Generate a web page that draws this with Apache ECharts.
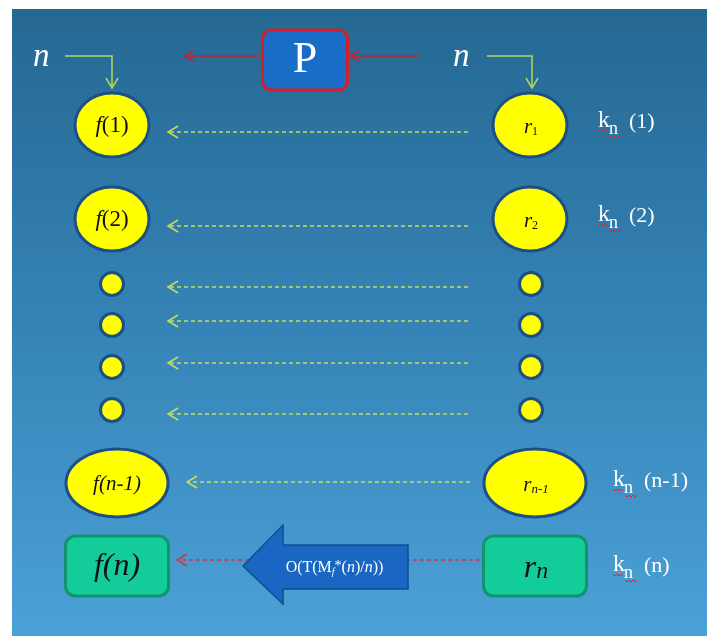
<!DOCTYPE html>
<html><head><meta charset="utf-8">
<script src="https://cdn.jsdelivr.net/npm/echarts@6/dist/echarts.min.js"></script>
<style>html,body{margin:0;padding:0;background:#fff}#c{width:707px;height:636px}</style>
</head><body><div id="c"></div>
<script>
// ---- diagram data (diagram coordinates) ----
const frame = [[12, 9, 707, 636]];
const rowY = [125, 219, 284, 325, 367, 410, 483, 566];
const leftX = [112, 112, 112, 112, 112, 112, 117, 117];
const rightX = [530, 530, 531, 531, 531, 531, 535, 535];
const nodeKind = ['oval', 'oval', 'dot', 'dot', 'dot', 'dot', 'wide', 'box'];
const leftFn = 'f';
const leftArg = ['(1)', '(2)', '', '', '', '', '(n-1)', '(n)'];
const rightBase = 'r';
const rightSub = ['1', '2', '', '', '', '', 'n-1', 'n'];
const linkY = [132, 226, 287, 321, 363, 414, 482, 560];
const linkFromX = [468, 468, 468, 468, 468, 468, 470, 480];
const linkToX = [168, 168, 168, 168, 168, 168, 187, 177];
const kRows = [0, 1, 6, 7];
const kX = [598, 598, 613, 613];
const kY = [121, 215, 480, 565];
const kArg = ['(1)', '(2)', '(n-1)', '(n)'];
const nLabels = [[33, 57], [453, 57]];
const elbowStartX = [65, 487];
const elbowCornerX = [112, 532];
const elbowY = 56, elbowEndY = 88;
const pBox = [[305, 60]];
const pLabel = 'P';
const pArrowFromX = [262, 420];
const pArrowToX = [185, 350];
const pArrowY = 56;
const bigArrow = [[243, 566, 408]];
const bigArrowLabel = ['O(T(M', 'f', '*', '(', 'n', ')/', 'n', '))'];

const SERIF = '"Liberation Serif", "DejaVu Serif", serif';
const GREEN = '#c6dd57', ELBOW = '#b4d65c', RED_DASH = '#cf3548', RED = '#cc1f2a';
const YEL = '#ffff00', YEL_STROKE = '#1c4f88', TEAL = '#14cc9a', TEAL_STROKE = '#11946f';

function vHead(tx, ty, dx, dy, len, half) {
  const bx = tx - dx * len, by = ty - dy * len;
  const px = -dy, py = dx;
  return [[bx + px * half, by + py * half], [tx, ty], [bx - px * half, by - py * half]];
}
function zig(x0, x1, y) {
  const pts = []; let k = 0;
  for (let x = x0; x <= x1; x += 2, k++) pts.push([x, y + (k % 2 ? 2 : 0)]);
  return pts;
}
const noFill = 'none';

const chart = echarts.init(document.getElementById('c'));
const base = { type: 'custom', silent: true, animation: false, clip: false, xAxisIndex: 0, yAxisIndex: 0 };

const option = {
  backgroundColor: '#ffffff',
  animation: false,
  grid: { left: 0, right: 0, top: 0, bottom: 0 },
  xAxis: { type: 'value', min: 0, max: 707, show: false },
  yAxis: { type: 'value', min: 0, max: 636, inverse: true, show: false },
  series: [
    Object.assign({}, base, {
      name: 'frame', z: 1, data: frame,
      renderItem: (p, api) => {
        const a = api.coord([api.value(0), api.value(1)]);
        const b = api.coord([api.value(2), api.value(3)]);
        return { type: 'rect', shape: { x: a[0], y: Math.min(a[1], b[1]), width: b[0] - a[0], height: Math.abs(b[1] - a[1]) },
          style: { fill: new echarts.graphic.LinearGradient(0, 0, 0, 1, [
            { offset: 0, color: '#256892' }, { offset: 0.5, color: '#3583b6' }, { offset: 1, color: '#4ba1d6' }]) } };
      }
    }),
    Object.assign({}, base, {
      name: 'links', z: 3, data: rowY.map((_, i) => [linkFromX[i], linkY[i], linkToX[i]]),
      renderItem: (p, api) => {
        const a = api.coord([api.value(0), api.value(1)]);
        const b = api.coord([api.value(2), api.value(1)]);
        const last = p.dataIndex === rowY.length - 1;
        const c = last ? RED_DASH : GREEN;
        return { type: 'group', children: [
          { type: 'line', shape: { x1: a[0], y1: a[1], x2: b[0] + 1, y2: b[1] }, style: { stroke: c, lineWidth: 1.5, lineDash: [4, 3], fill: noFill } },
          { type: 'polyline', shape: { points: vHead(b[0], b[1], -1, 0, 10, 6) }, style: { stroke: c, lineWidth: 1.5, fill: noFill } }
        ] };
      }
    }),
    Object.assign({}, base, {
      name: 'pArrows', z: 3, data: pArrowFromX.map((x, i) => [x, pArrowY, pArrowToX[i]]),
      renderItem: (p, api) => {
        const a = api.coord([api.value(0), api.value(1)]);
        const b = api.coord([api.value(2), api.value(1)]);
        return { type: 'group', children: [
          { type: 'line', shape: { x1: a[0], y1: a[1], x2: b[0], y2: b[1] }, style: { stroke: RED, lineWidth: 1.5, fill: noFill } },
          { type: 'polyline', shape: { points: vHead(b[0], b[1], -1, 0, 9, 5) }, style: { stroke: RED, lineWidth: 1.5, fill: noFill } }
        ] };
      }
    }),
    Object.assign({}, base, {
      name: 'elbows', z: 3, data: elbowStartX.map((x, i) => [x, elbowY, elbowCornerX[i], elbowEndY]),
      renderItem: (p, api) => {
        const a = api.coord([api.value(0), api.value(1)]);
        const c = api.coord([api.value(2), api.value(1)]);
        const e = api.coord([api.value(2), api.value(3)]);
        return { type: 'group', children: [
          { type: 'polyline', shape: { points: [a, c, e] }, style: { stroke: ELBOW, lineWidth: 1.5, fill: noFill } },
          { type: 'polyline', shape: { points: vHead(e[0], e[1], 0, 1, 10, 6) }, style: { stroke: ELBOW, lineWidth: 1.5, fill: noFill } }
        ] };
      }
    }),
    Object.assign({}, base, {
      name: 'left', z: 4, data: rowY.map((y, i) => [leftX[i], y]),
      renderItem: (p, api) => nodeShape(p, api, true)
    }),
    Object.assign({}, base, {
      name: 'right', z: 4, data: rowY.map((y, i) => [rightX[i], y]),
      renderItem: (p, api) => nodeShape(p, api, false)
    }),
    Object.assign({}, base, {
      name: 'P', z: 4, data: pBox,
      renderItem: (p, api) => {
        const c = api.coord([api.value(0), api.value(1)]);
        return { type: 'group', children: [
          { type: 'rect', shape: { x: c[0] - 42.5, y: c[1] - 30, width: 85, height: 60, r: 9 }, style: { fill: '#1a6dc6', stroke: '#d41f2b', lineWidth: 3 } },
          { type: 'text', x: c[0], y: c[1], style: { text: pLabel, fill: '#ffffff', fontSize: 44, fontFamily: SERIF, align: 'center', verticalAlign: 'middle' } }
        ] };
      }
    }),
    Object.assign({}, base, {
      name: 'bigArrow', z: 5, data: bigArrow,
      renderItem: (p, api) => {
        const t = api.coord([api.value(0), api.value(1)]);
        const e = api.coord([api.value(2), api.value(1)]);
        const hx = t[0] + 40, cy = t[1];
        const pts = [[t[0], cy], [hx, cy - 41], [hx, cy - 21], [e[0], cy - 21], [e[0], cy + 23], [hx, cy + 23], [hx, cy + 38]];
        const L = bigArrowLabel;
        const txt = '{m|' + L[0] + '}{sb|' + L[1] + '}{sp|' + L[2] + '}{m|' + L[3] + '}{i|' + L[4] + '}{m|' + L[5] + '}{i|' + L[6] + '}{m|' + L[7] + '}';
        return { type: 'group', children: [
          { type: 'polygon', shape: { points: pts }, style: { fill: '#1a67c3', stroke: '#0f4c93', lineWidth: 1.5 } },
          { type: 'text', x: (hx + e[0]) / 2 - 11, y: cy + 2, style: { text: txt, fill: '#fff', align: 'center', verticalAlign: 'middle',
            rich: {
              m: { fontSize: 16, lineHeight: 18, fontFamily: SERIF, fill: '#fff' },
              i: { fontSize: 16, lineHeight: 18, fontFamily: SERIF, fontStyle: 'italic', fill: '#fff' },
              sb: { fontSize: 10, lineHeight: 8, fontFamily: SERIF, fontStyle: 'italic', fill: '#fff', verticalAlign: 'bottom' },
              sp: { fontSize: 14, lineHeight: 2, fontFamily: SERIF, fill: '#fff', verticalAlign: 'top' }
            } } }
        ] };
      }
    }),
    Object.assign({}, base, {
      name: 'kLabels', z: 4, data: kRows.map((r, i) => [kX[i], kY[i]]),
      renderItem: (p, api) => {
        const c = api.coord([api.value(0), api.value(1)]);
        const x = c[0], y = c[1];
        const f = { fill: '#ffffff', fontFamily: SERIF, align: 'left', verticalAlign: 'middle' };
        return { type: 'group', children: [
          { type: 'text', x: x, y: y, style: Object.assign({ text: 'k', fontSize: 24 }, f) },
          { type: 'text', x: x + 11, y: y + 8, style: Object.assign({ text: 'n', fontSize: 18 }, f) },
          { type: 'text', x: x + 31, y: y + 1, style: Object.assign({ text: kArg[p.dataIndex], fontSize: 22 }, f) },
          { type: 'polyline', shape: { points: zig(x, x + 10, y + 9) }, style: { stroke: '#d22a3a', lineWidth: 1, fill: noFill } },
          { type: 'polyline', shape: { points: zig(x + 12, x + 24, y + 15) }, style: { stroke: '#d22a3a', lineWidth: 1, fill: noFill } }
        ] };
      }
    }),
    Object.assign({}, base, {
      name: 'nLabels', z: 4, data: nLabels,
      renderItem: (p, api) => {
        const c = api.coord([api.value(0), api.value(1)]);
        return { type: 'text', x: c[0], y: c[1], style: { text: 'n', fill: '#ffffff', fontSize: 33, fontStyle: 'italic', fontFamily: SERIF, align: 'left', verticalAlign: 'middle' } };
      }
    })
  ]
};

function nodeShape(p, api, isLeft) {
  const i = p.dataIndex;
  const c = api.coord([api.value(0), api.value(1)]);
  const kind = nodeKind[i];
  const kids = [];
  if (kind === 'oval') kids.push({ type: 'ellipse', shape: { cx: c[0], cy: c[1], rx: 37, ry: 32 }, style: { fill: YEL, stroke: YEL_STROKE, lineWidth: 3 } });
  else if (kind === 'dot') kids.push({ type: 'circle', shape: { cx: c[0], cy: c[1], r: 11.5 }, style: { fill: YEL, stroke: YEL_STROKE, lineWidth: 3 } });
  else if (kind === 'wide') kids.push({ type: 'ellipse', shape: { cx: c[0], cy: c[1], rx: 51, ry: 34 }, style: { fill: YEL, stroke: YEL_STROKE, lineWidth: 3 } });
  else kids.push({ type: 'rect', shape: { x: c[0] - 51.5, y: c[1] - 30, width: 103, height: 60, r: 10 }, style: { fill: TEAL, stroke: TEAL_STROKE, lineWidth: 3 } });
  if (kind !== 'dot') {
    if (isLeft) {
      const fs = kind === 'box' ? 32 : (kind === 'wide' ? 21 : 23);
      const arg = leftArg[i];
      const txt = '{i|' + leftFn + '}{' + (arg.indexOf('n') >= 0 ? 'i' : 'u') + '|' + arg + '}';
      kids.push({ type: 'text', x: c[0], y: c[1] + 1, style: { text: txt, fill: '#111', align: 'center', verticalAlign: 'middle',
        rich: { i: { fontSize: fs, fontStyle: 'italic', fontFamily: SERIF, fill: '#111' }, u: { fontSize: fs, fontFamily: SERIF, fill: '#111' } } } });
    } else {
      const big = kind === 'box';
      const fs = big ? 32 : 21, sfs = big ? 24 : (kind === 'wide' ? 13 : 12);
      const L = big ? 30 : 22, sl = big ? 14 : 10;
      const txt = '{r|' + rightBase + '}{s|' + rightSub[i] + '}';
      kids.push({ type: 'text', x: c[0] + 1, y: c[1] + (big ? 3 : 2), style: { text: txt, fill: '#111', align: 'center', verticalAlign: 'middle',
        rich: { r: { fontSize: fs, lineHeight: L, fontStyle: 'italic', fontFamily: SERIF, fill: '#111' },
                s: { fontSize: sfs, lineHeight: sl, fontStyle: /n/.test(rightSub[i]) ? 'italic' : 'normal', fontFamily: SERIF, fill: '#111', verticalAlign: 'bottom' } } } });
    }
  }
  return { type: 'group', children: kids };
}

chart.setOption(option);
</script>
</body></html>
